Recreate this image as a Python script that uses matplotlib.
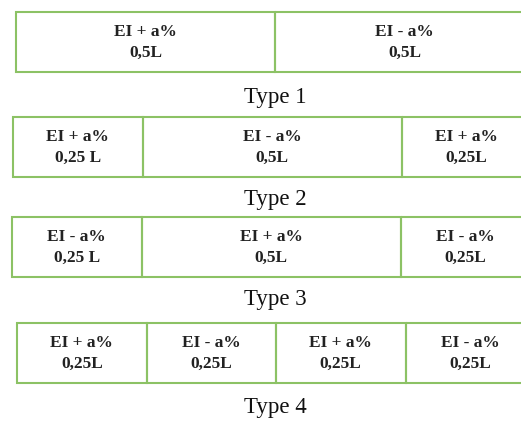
import matplotlib
matplotlib.use("Agg")
import matplotlib.pyplot as plt
from matplotlib.patches import Rectangle

# Data
type_labels = ["Type 1", "Type 2", "Type 3", "Type 4"]
row1_signs = ["EI + a%", "EI - a%"]
row1_lengths = ["0,5L", "0,5L"]
row1_fracs = [0.5, 0.5]
row2_signs = ["EI + a%", "EI - a%", "EI + a%"]
row2_lengths = ["0,25 L", "0,5L", "0,25L"]
row2_fracs = [0.25, 0.5, 0.25]
row3_signs = ["EI - a%", "EI + a%", "EI - a%"]
row3_lengths = ["0,25 L", "0,5L", "0,25L"]
row3_fracs = [0.25, 0.5, 0.25]
row4_signs = ["EI + a%", "EI - a%", "EI + a%", "EI - a%"]
row4_lengths = ["0,25L", "0,25L", "0,25L", "0,25L"]
row4_fracs = [0.25, 0.25, 0.25, 0.25]

rows = [
    (row1_signs, row1_lengths, row1_fracs),
    (row2_signs, row2_lengths, row2_fracs),
    (row3_signs, row3_lengths, row3_fracs),
    (row4_signs, row4_lengths, row4_fracs),
]

# Layout (pixel coordinates)
W, H = 521, 424
total_w = 518
lefts = [16, 13, 12, 17]
tops = [12, 117, 217, 323]
box_h = 60
caption_y = [98, 199, 299, 408]
green = "#8cc265"

fig = plt.figure(figsize=(W / 100, H / 100), dpi=100)
ax = fig.add_axes([0, 0, 1, 1])
ax.set_xlim(0, W)
ax.set_ylim(H, 0)
ax.axis("off")

for i, (signs, lens, fracs) in enumerate(rows):
    x = lefts[i]
    top = tops[i]
    for s, l, f in zip(signs, lens, fracs):
        w = f * total_w
        ax.add_patch(Rectangle((x, top), w, box_h, fill=False,
                               edgecolor=green, linewidth=1.5, clip_on=False))
        cx = x + w / 2
        ax.text(cx, top + box_h * 0.34, s, ha="center", va="center",
                fontfamily="Liberation Serif", fontweight="bold", fontsize=12.5,
                color="#222222")
        ax.text(cx, top + box_h * 0.68, l, ha="center", va="center",
                fontfamily="Liberation Serif", fontweight="bold", fontsize=12.5,
                color="#222222")
        x += w
    ax.text(275, caption_y[i], type_labels[i], ha="center", va="center",
            fontfamily="Liberation Serif", fontsize=16.5, color="#111111")

fig.savefig("out.png", dpi=100)
